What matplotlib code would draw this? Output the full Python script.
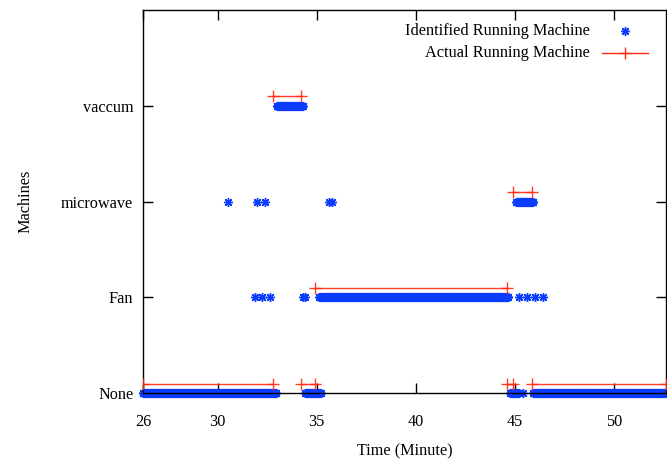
import numpy as np
import matplotlib.pyplot as plt
from matplotlib.lines import Line2D

plt.rcParams['font.family'] = ['Liberation Serif', 'DejaVu Serif']
plt.rcParams['font.size'] = 11.7

machines = ['None', 'Fan', 'microwave', 'vaccum']

# identified machine: continuous runs (start, end, level) sampled every second
run_start = [26.24, 34.43, 44.77, 45.92, 35.13, 45.06, 32.99]
run_end = [32.94, 35.20, 45.20, 52.61, 44.66, 45.92, 34.30]
run_level = [0, 0, 0, 0, 1, 2, 3]
sample_step = 1 / 60.0

# identified machine: isolated detections
single_t = [45.40, 31.88, 32.23, 32.63, 34.30, 34.40, 45.20, 45.60, 46.00, 46.40,
            30.52, 31.98, 32.38, 35.62, 35.75]
single_level = [0, 1, 1, 1, 1, 1, 1, 1, 1, 1, 2, 2, 2, 2, 2]

# actual running machine: segments
act_start = [26.24, 32.80, 34.23, 34.90, 44.60, 44.92, 45.87]
act_end = [32.80, 34.23, 34.90, 44.60, 44.92, 45.87, 52.61]
act_level = [0, 3, 0, 1, 0, 2, 0]
act_offset = 0.1

blue = '#0a3cff'
red = '#ff2a10'

id_t, id_y = [], []
for s, e, lv in zip(run_start, run_end, run_level):
    t = np.arange(s, e + 1e-9, sample_step)
    id_t.extend(t)
    id_y.extend([lv] * len(t))
id_t.extend(single_t)
id_y.extend(single_level)

act_t, act_y = [], []
for s, e, lv in zip(act_start, act_end, act_level):
    act_t += [s, e, np.nan]
    act_y += [lv + act_offset, lv + act_offset, np.nan]

fig = plt.figure(figsize=(6.67, 4.62), dpi=100)
ax = fig.add_axes([0.2144, 0.149, 0.784, 0.829])

star = (8, 2, 0)
ax.plot(id_t, id_y, linestyle='none', marker=star, markersize=6.5, color=blue,
        markeredgewidth=1.0, clip_on=False, zorder=2)
ax.plot(act_t, act_y, color=red, linewidth=1.0, marker='+', markersize=8,
        markeredgewidth=1.0, zorder=3, alpha=0.9)

ax.set_xlim(26.24, 52.61)
ax.set_ylim(0, 4)
ax.set_xticks([26.24, 30, 35, 40, 45, 50])
ax.set_xticklabels(['26', '30', '35', '40', '45', '50'])
ax.set_yticks(range(len(machines)))
ax.set_yticklabels(machines)
ax.tick_params(direction='in', length=7, width=1, top=True, right=True)
ax.tick_params(axis='x', pad=15)
ax.tick_params(axis='y', pad=7)
for sp in ax.spines.values():
    sp.set_linewidth(1.0)

ax.set_xlabel('Time (Minute)', labelpad=10)
ax.set_ylabel('Machines', labelpad=20)

# gnuplot-like legend: right-aligned text then sample
ax.text(0.855, 0.946, 'Identified Running Machine', transform=ax.transAxes,
        ha='right', va='center')
ax.text(0.855, 0.888, 'Actual Running Machine', transform=ax.transAxes,
        ha='right', va='center')
ax.add_line(Line2D([0.922], [0.946], transform=ax.transAxes, linestyle='none',
                   marker=star, markersize=6.5, color=blue))
ax.add_line(Line2D([0.878, 0.966], [0.888, 0.888], transform=ax.transAxes,
                   color=red, linewidth=1.0))
ax.add_line(Line2D([0.922], [0.888], transform=ax.transAxes, linestyle='none',
                   marker='+', markersize=8, color=red))

fig.savefig('out.png', dpi=100)
